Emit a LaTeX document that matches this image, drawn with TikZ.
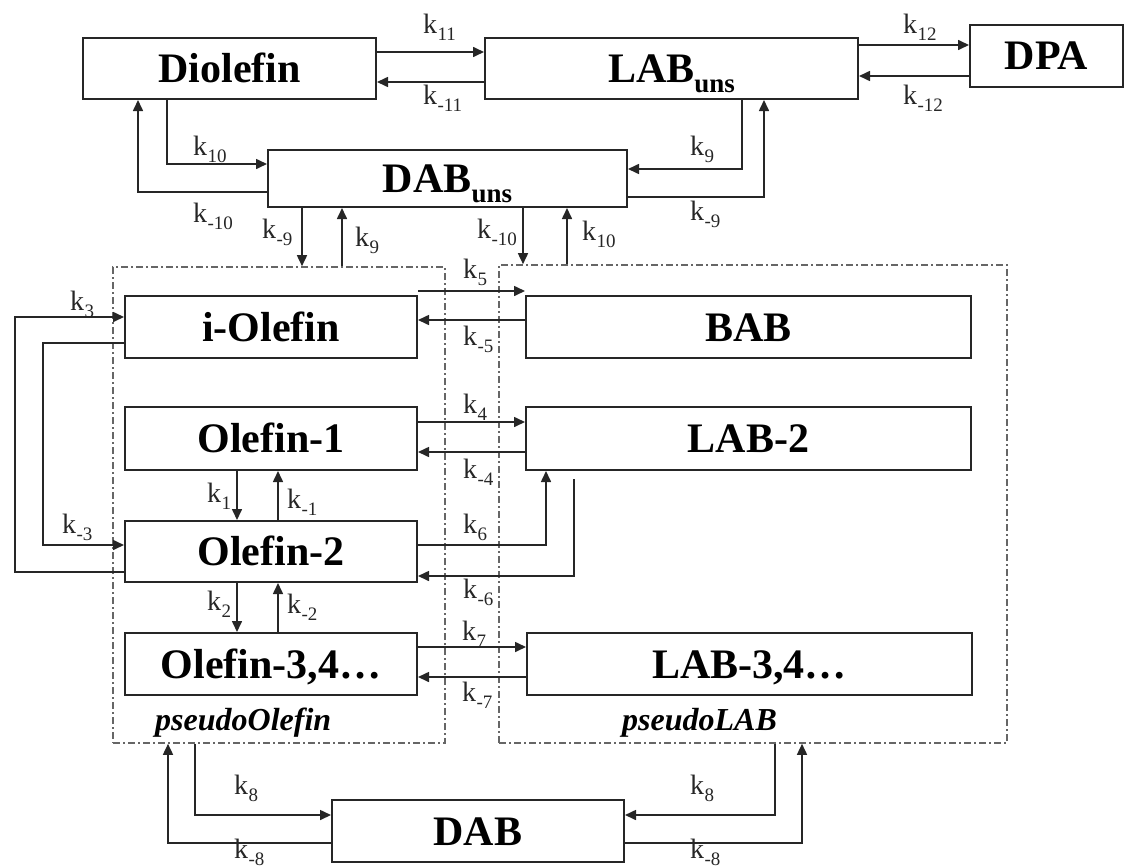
\documentclass[tikz,border=0pt]{standalone}
\usepackage{fontspec}
\setmainfont{Liberation Serif}
\usetikzlibrary{arrows.meta,calc}
\newcommand\kl[1]{k\kern0.3pt\raisebox{-7pt}{\fontsize{19}{19}\selectfont #1}}
\newcommand\uns{\raisebox{-10pt}{\fontsize{27}{27}\selectfont uns}}
\begin{document}
\begin{tikzpicture}[x=1pt,y=-1pt,
  box/.style={draw=black!85, line width=2pt, inner sep=0pt, font=\fontsize{42}{42}\selectfont\bfseries, text height=28pt, text depth=0pt},
  grp/.style={draw=black!60, line width=1.6pt, dash pattern=on 7pt off 3pt on 2pt off 3pt, inner sep=0pt},
  arr/.style={draw=black!85, line width=1.6pt, -{Triangle[length=11pt,width=10pt]}},
  kl/.style={anchor=base west, inner sep=0pt, font=\fontsize{28}{28}\selectfont, text=black!85},
  grpl/.style={anchor=base west, inner sep=0pt, font=\fontsize{32}{32}\selectfont\bfseries\itshape}]
\useasboundingbox (0,0) rectangle (1131,867);
% groups
\node[grp, minimum width=332pt, minimum height=476pt] (po) at (279,505) {};
\node[grp, minimum width=508pt, minimum height=478pt] (pl) at (753,504) {};
\node[grpl] (pot) at (155,730) {pseudoOlefin};
\node[grpl] (plt) at (622,730) {pseudoLAB};
% boxes
\node[box, minimum width=293pt, minimum height=61pt] (dio) at (229.5,68.5) {Diolefin};
\node[box, minimum width=373pt, minimum height=61pt] (labu) at (671.5,68.5) {LAB\uns};
\node[box, minimum width=153pt, minimum height=62pt] (dpa) at (1046.5,56) {DPA};
\node[box, minimum width=359pt, minimum height=57pt] (dabu) at (447.5,178.5) {DAB\uns};
\node[box, minimum width=292pt, minimum height=62pt] (iol) at (271,327) {i-Olefin};
\node[box, minimum width=445pt, minimum height=62pt] (bab) at (748.5,327) {BAB};
\node[box, minimum width=292pt, minimum height=63pt] (ol1) at (271,438.5) {Olefin-1};
\node[box, minimum width=445pt, minimum height=63pt] (lab2) at (748.5,438.5) {LAB-2};
\node[box, minimum width=292pt, minimum height=61pt] (ol2) at (271,551.5) {Olefin-2};
\node[box, minimum width=292pt, minimum height=62pt] (ol34) at (271,664) {Olefin-3,4\ldots};
\node[box, minimum width=445pt, minimum height=62pt] (lab34) at (749.5,664) {LAB-3,4\ldots};
\node[box, minimum width=292pt, minimum height=62pt] (dab) at (478,831) {DAB};
% connectors
\draw[arr] (dio.east |- 0,52) -- (labu.west |- 0,52);
\draw[arr] (labu.west |- 0,82) -- (dio.east |- 0,82);
\draw[arr] (labu.east |- 0,45) -- (dpa.west |- 0,45);
\draw[arr] (dpa.west |- 0,76) -- (labu.east |- 0,76);
\draw[arr] (dio.south -| 167,0) |- (dabu.west |- 0,164);
\draw[arr] (dabu.west |- 0,192) -| (dio.south -| 138,0);
\draw[arr] (labu.south -| 742,0) |- (dabu.east |- 0,169);
\draw[arr] (dabu.east |- 0,197) -| (labu.south -| 764,0);
\draw[arr] (dabu.south -| 302,0) -- (po.north -| 302,0);
\draw[arr] (po.north -| 342,0) -- (dabu.south -| 342,0);
\draw[arr] (dabu.south -| 523,0) -- (pl.north -| 523,0);
\draw[arr] (pl.north -| 567,0) -- (dabu.south -| 567,0);
\draw[arr] (iol.east |- 0,291) -- (bab.west |- 0,291);
\draw[arr] (bab.west |- 0,320) -- (iol.east |- 0,320);
\draw[arr] (ol1.east |- 0,422) -- (lab2.west |- 0,422);
\draw[arr] (lab2.west |- 0,452) -- (ol1.east |- 0,452);
\draw[arr] (ol2.east |- 0,545) -| (lab2.south -| 546,0);
\draw[arr] ($(lab2.south -| 574,0)+(0,8)$) |- (ol2.east |- 0,576);
\draw[arr] (ol34.east |- 0,647) -- (lab34.west |- 0,647);
\draw[arr] (lab34.west |- 0,677) -- (ol34.east |- 0,677);
\draw[arr] (ol1.south -| 237,0) -- (ol2.north -| 237,0);
\draw[arr] (ol2.north -| 278,0) -- (ol1.south -| 278,0);
\draw[arr] (ol2.south -| 237,0) -- (ol34.north -| 237,0);
\draw[arr] (ol34.north -| 278,0) -- (ol2.south -| 278,0);
\draw[arr] (ol2.west |- 0,572) -- (15,572) -- (15,317) -- (iol.west |- 0,317);
\draw[arr] (iol.west |- 0,343) -- (43,343) -- (43,545) -- (ol2.west |- 0,545);
\draw[arr] (po.south -| 195,0) |- (dab.west |- 0,815);
\draw[arr] (dab.west |- 0,843) -| (po.south -| 168,0);
\draw[arr] (pl.south -| 775,0) |- (dab.east |- 0,815);
\draw[arr] (dab.east |- 0,843) -| (pl.south -| 802,0);
% labels
\node[kl] (t11) at (423,34) {\kl{11}};
\node[kl] (tm11) at (423,104) {\kl{-11}};
\node[kl] (t12) at (903,34) {\kl{12}};
\node[kl] (tm12) at (903,104) {\kl{-12}};
\node[kl] (t10a) at (193,155) {\kl{10}};
\node[kl] (tm10a) at (193,222) {\kl{-10}};
\node[kl] (tm9a) at (262,238) {\kl{-9}};
\node[kl] (t9a) at (355,246) {\kl{9}};
\node[kl] (tm10b) at (477,238) {\kl{-10}};
\node[kl] (t10b) at (582,240) {\kl{10}};
\node[kl] (t9b) at (690,155) {\kl{9}};
\node[kl] (tm9b) at (690,220) {\kl{-9}};
\node[kl] (t5) at (463,278) {\kl{5}};
\node[kl] (tm5) at (463,345) {\kl{-5}};
\node[kl] (t4) at (463,413) {\kl{4}};
\node[kl] (tm4) at (463,478) {\kl{-4}};
\node[kl] (t6) at (463,533) {\kl{6}};
\node[kl] (tm6) at (463,598) {\kl{-6}};
\node[kl] (t7) at (462,640) {\kl{7}};
\node[kl] (tm7) at (462,701) {\kl{-7}};
\node[kl] (t3) at (70,310) {\kl{3}};
\node[kl] (tm3) at (62,533) {\kl{-3}};
\node[kl] (t1) at (207,502) {\kl{1}};
\node[kl] (tm1) at (287,508) {\kl{-1}};
\node[kl] (t2) at (207,610) {\kl{2}};
\node[kl] (tm2) at (287,613) {\kl{-2}};
\node[kl] (t8a) at (234,794) {\kl{8}};
\node[kl] (tm8a) at (234,858) {\kl{-8}};
\node[kl] (t8b) at (690,794) {\kl{8}};
\node[kl] (tm8b) at (690,858) {\kl{-8}};
\end{tikzpicture}
\end{document}
